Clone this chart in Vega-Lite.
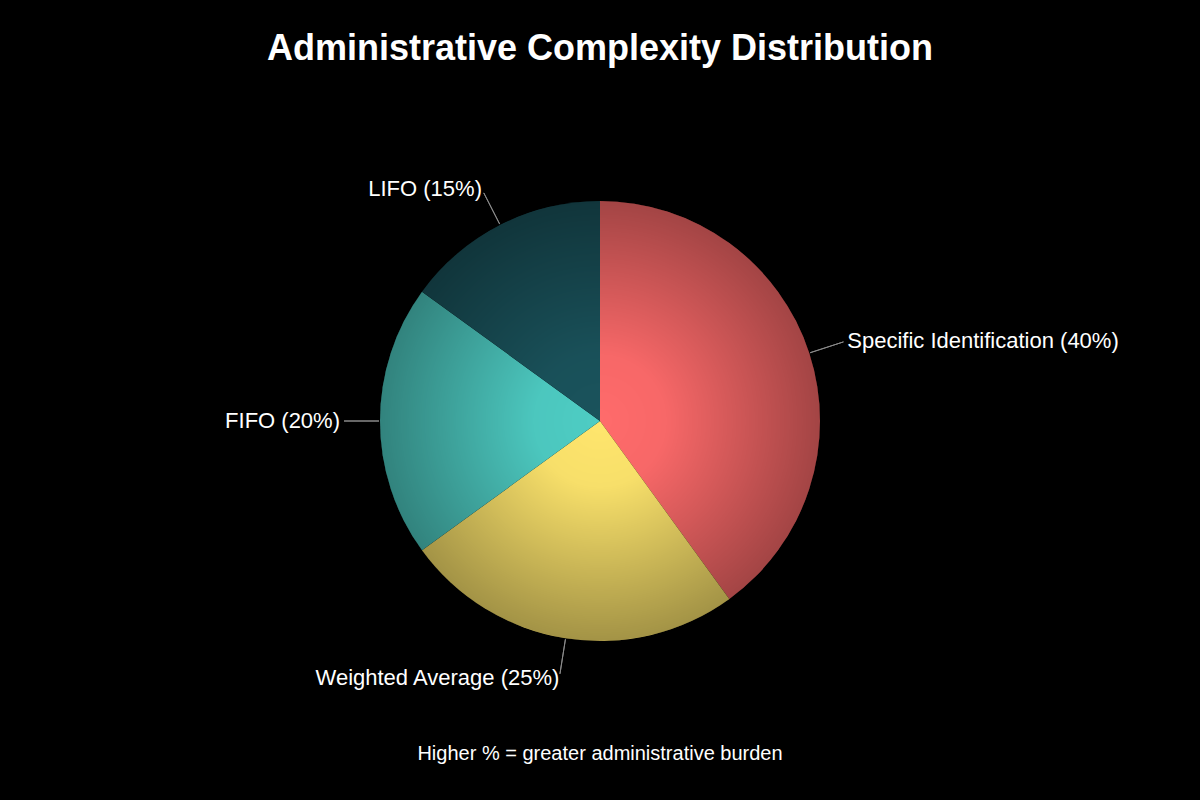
{
  "$schema": "https://vega.github.io/schema/vega-lite/v6.json",
  "background": "#000000",
  "padding": {"top": 31, "left": 0, "right": 0, "bottom": 36},
  "title": {
    "text": "Administrative Complexity Distribution",
    "font": "Liberation Sans, Arial, sans-serif",
    "fontSize": 36,
    "fontWeight": "bold",
    "color": "#ffffff",
    "anchor": "middle",
    "offset": 33
  },
  "spacing": 0,
  "config": {
    "view": {"stroke": null},
    "text": {"font": "Liberation Sans, Arial, sans-serif"}
  },
  "vconcat": [
    {
      "width": 1200,
      "height": 640,
      "title": {
        "text": "Higher % = greater administrative burden",
        "orient": "bottom",
        "anchor": "middle",
        "font": "Liberation Sans, Arial, sans-serif",
        "fontSize": 20,
        "fontWeight": "normal",
        "color": "#ffffff",
        "offset": 3
      },
      "layer": [
        {
          "data": {
            "values": [
              {"method": "Specific Identification", "pct": 40},
              {"method": "Weighted Average", "pct": 25},
              {"method": "FIFO", "pct": 20},
              {"method": "LIFO", "pct": 15}
            ]
          },
          "transform": [
            {"window": [{"op": "row_number", "as": "idx"}]},
            {"stack": "pct", "groupby": [], "sort": [{"field": "idx", "order": "ascending"}], "as": ["start", "end"]},
            {"calculate": "(datum.start + datum.end) / 2", "as": "mid"},
            {"calculate": "datum.method + ' (' + datum.pct + '%)'", "as": "label"}
          ],
          "layer": [
            {
              "mark": {"type": "arc", "radius": 220},
              "encoding": {
                "theta": {"field": "start", "type": "quantitative", "scale": {"domain": [0, 100]}},
                "theta2": {"field": "end"},
                "fill": {
                  "field": "method",
                  "type": "nominal",
                  "scale": {
                    "domain": ["Specific Identification", "Weighted Average", "FIFO", "LIFO"],
                    "range": ["#ff6b6b", "#ffe66d", "#4ecdc4", "#1a535c"]
                  },
                  "legend": null
                }
              }
            },
            {
              "mark": {"type": "arc", "radius": 256, "radius2": 221, "stroke": "#8a8a8a", "strokeWidth": 1, "fill": null},
              "encoding": {
                "theta": {"field": "mid", "type": "quantitative"},
                "theta2": {"field": "mid"}
              }
            },
            {
              "mark": {"type": "text", "radius": 260, "align": "left", "baseline": "middle", "fontSize": 22, "color": "#ffffff"},
              "encoding": {
                "theta": {"field": "mid", "type": "quantitative"},
                "text": {
                  "condition": {"test": "datum.method === 'Specific Identification'", "field": "label"},
                  "value": ""
                }
              }
            },
            {
              "mark": {"type": "text", "radius": 260, "align": "right", "baseline": "middle", "fontSize": 22, "color": "#ffffff"},
              "encoding": {
                "theta": {"field": "mid", "type": "quantitative"},
                "text": {
                  "condition": {"test": "datum.method !== 'Specific Identification'", "field": "label"},
                  "value": ""
                }
              }
            }
          ]
        },
        {
          "data": {"values": [{"shade": "pie"}]},
          "mark": {
            "type": "arc",
            "radius": 220,
            "fill": {
              "gradient": "radial",
              "x1": 0.5, "y1": 0.5, "r1": 0,
              "x2": 0.5, "y2": 0.5, "r2": 0.5,
              "stops": [
                {"offset": 0, "color": "rgba(0,0,0,0)"},
                {"offset": 0.3, "color": "rgba(0,0,0,0.03)"},
                {"offset": 1, "color": "rgba(0,0,0,0.36)"}
              ]
            }
          },
          "encoding": {}
        }
      ]
    }
  ]
}
